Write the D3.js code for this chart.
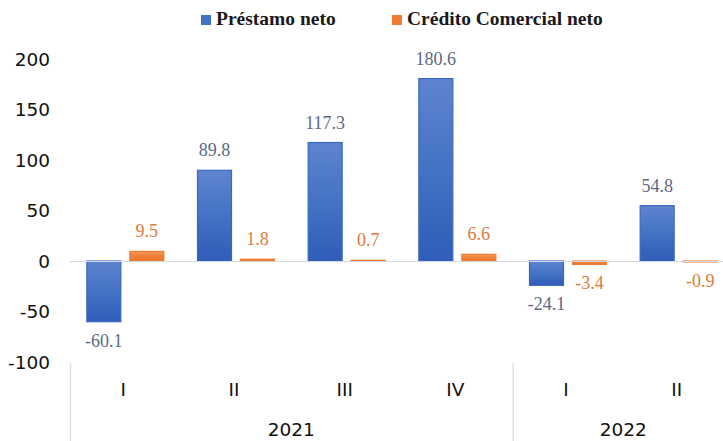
<!DOCTYPE html>
<html>
<head>
<meta charset="utf-8">
<script src="https://cdn.jsdelivr.net/npm/d3@7"></script>
<style>
  body { margin: 0; background: #fff; }
  svg { display: block; }
</style>
</head>
<body>
<div id="chart"></div>
<script>
const WIDTH = 723;
const HEIGHT = 441;

const QUARTERS = ["I", "II", "III", "IV", "I", "II"];
const YEARS = ["2021", "2021", "2021", "2021", "2022", "2022"];
const SERIES = ["Préstamo neto", "Crédito Comercial neto"];
const PRESTAMO = [-60.1, 89.8, 117.3, 180.6, -24.1, 54.8];
const CREDITO = [9.5, 1.8, 0.7, 6.6, -3.4, -0.9];
const Y_TICKS = [-100, -50, 0, 50, 100, 150, 200];

const COLORS = { prestamo: "#4472c4", credito: "#ed7d31" };
const EDGE_COLORS = { prestamo: "#3b68bd", credito: "#ec7a2f" };
const LABEL_COLORS = { prestamo: "#5a6985", credito: "#dc7a3b" };

let svg = d3.select("#chart")
    .append("svg")
    .attr("width", WIDTH)
    .attr("height", HEIGHT);

// gradients
let defs = svg.append("defs");
function addGradient(id, stops) {
    let g = defs.append("linearGradient")
        .attr("id", id)
        .attr("x1", 0).attr("y1", 0)
        .attr("x2", 0).attr("y2", 1);
    stops.forEach(s => {
        g.append("stop").attr("offset", s[0]).attr("stop-color", s[1]);
    });
}
addGradient("grad-prestamo", [[0, "#5e84cf"], [0.5, "#4472c4"], [1, "#2f5db8"]]);
addGradient("grad-credito", [[0, "#f59c5c"], [0.5, "#ee8136"], [1, "#e8762a"]]);

// scales
let keys = QUARTERS.map((q, i) => i);
let x0 = d3.scaleBand().domain(keys).range([70, 734]);
let x1 = d3.scaleBand().domain(["prestamo", "credito"])
    .range([0, x0.bandwidth()])
    .paddingInner(0.186)
    .paddingOuter(0.38);
let y = d3.scaleLinear().domain([-100, 200]).range([362, 59]);

// y axis labels
svg.append("g")
    .selectAll("text")
    .data(Y_TICKS)
    .enter()
    .append("text")
    .attr("x", 50)
    .attr("y", d => y(d))
    .attr("dy", "0.36em")
    .style("text-anchor", "end")
    .style("font-family", "'DejaVu Sans', Verdana, sans-serif")
    .style("font-size", "18.5px")
    .style("fill", "#111")
    .text(d => d);

// bars
let rows = keys.map(i => ({ i: i, prestamo: PRESTAMO[i], credito: CREDITO[i] }));
let groups = svg.append("g")
    .selectAll("g")
    .data(rows)
    .enter()
    .append("g")
    .attr("transform", d => `translate(${x0(d.i)},0)`);

["prestamo", "credito"].forEach(k => {
    groups.append("rect")
        .attr("x", x1(k) + 0.5)
        .attr("width", x1.bandwidth() - 1)
        .attr("y", d => y(Math.max(0, d[k])))
        .attr("height", d => Math.abs(y(d[k]) - y(0)))
        .style("fill", `url(#grad-${k})`)
        .style("stroke", EDGE_COLORS[k])
        .style("stroke-width", 1.2);

    groups.append("text")
        .attr("x", x1(k) + x1.bandwidth() / 2)
        .attr("y", d => d[k] >= 0 ? y(d[k]) - 14 : y(d[k]) + 25)
        .style("text-anchor", "middle")
        .style("font-family", "'Liberation Serif', 'Times New Roman', serif")
        .style("font-size", "18px")
        .style("fill", LABEL_COLORS[k])
        .text(d => d[k].toFixed(1));
});

// zero line
svg.append("line")
    .attr("x1", 70)
    .attr("x2", WIDTH)
    .attr("y1", y(0) + 0.5)
    .attr("y2", y(0) + 0.5)
    .style("stroke", "#d3d9e4")
    .style("stroke-width", 1);

// category axis
let axisFont = "'DejaVu Sans', Verdana, sans-serif";
svg.append("g")
    .selectAll("text")
    .data(keys)
    .enter()
    .append("text")
    .attr("x", d => x0(d) + x0.bandwidth() / 2 - 2)
    .attr("y", 396)
    .style("text-anchor", "middle")
    .style("font-family", axisFont)
    .style("font-size", "18.5px")
    .style("fill", "#111")
    .text(d => QUARTERS[d]);

let yearNames = Array.from(new Set(YEARS));
let yearSpans = yearNames.map(yr => {
    let idx = keys.filter(i => YEARS[i] === yr);
    return {
        year: yr,
        start: x0(idx[0]),
        end: x0(idx[idx.length - 1]) + x0.bandwidth()
    };
});

let separators = [yearSpans[0].start].concat(yearSpans.map(s => s.end));
svg.append("g")
    .selectAll("line")
    .data(separators)
    .enter()
    .append("line")
    .attr("x1", d => d + 0.5)
    .attr("x2", d => d + 0.5)
    .attr("y1", 363)
    .attr("y2", HEIGHT)
    .style("stroke", "#dce1ea")
    .style("stroke-width", 1.5);

svg.append("g")
    .selectAll("text")
    .data(yearSpans)
    .enter()
    .append("text")
    .attr("x", d => (d.start + d.end) / 2)
    .attr("y", 436)
    .style("text-anchor", "middle")
    .style("font-family", axisFont)
    .style("font-size", "18.5px")
    .style("fill", "#111")
    .text(d => d.year);

// legend
let legend = svg.append("g").attr("id", "legend");
let legendItems = [
    { key: "prestamo", text: SERIES[0], x: 201 },
    { key: "credito", text: SERIES[1], x: 392 }
];
legendItems.forEach(item => {
    legend.append("rect")
        .attr("x", item.x)
        .attr("y", 15)
        .attr("width", 10)
        .attr("height", 10)
        .style("fill", COLORS[item.key]);
    legend.append("text")
        .attr("x", item.x + 15)
        .attr("y", 25)
        .style("font-family", "'Liberation Serif', 'Times New Roman', serif")
        .style("font-weight", "bold")
        .style("font-size", "19.5px")
        .style("fill", "#1a1a1a")
        .text(item.text);
});
</script>
</body>
</html>
